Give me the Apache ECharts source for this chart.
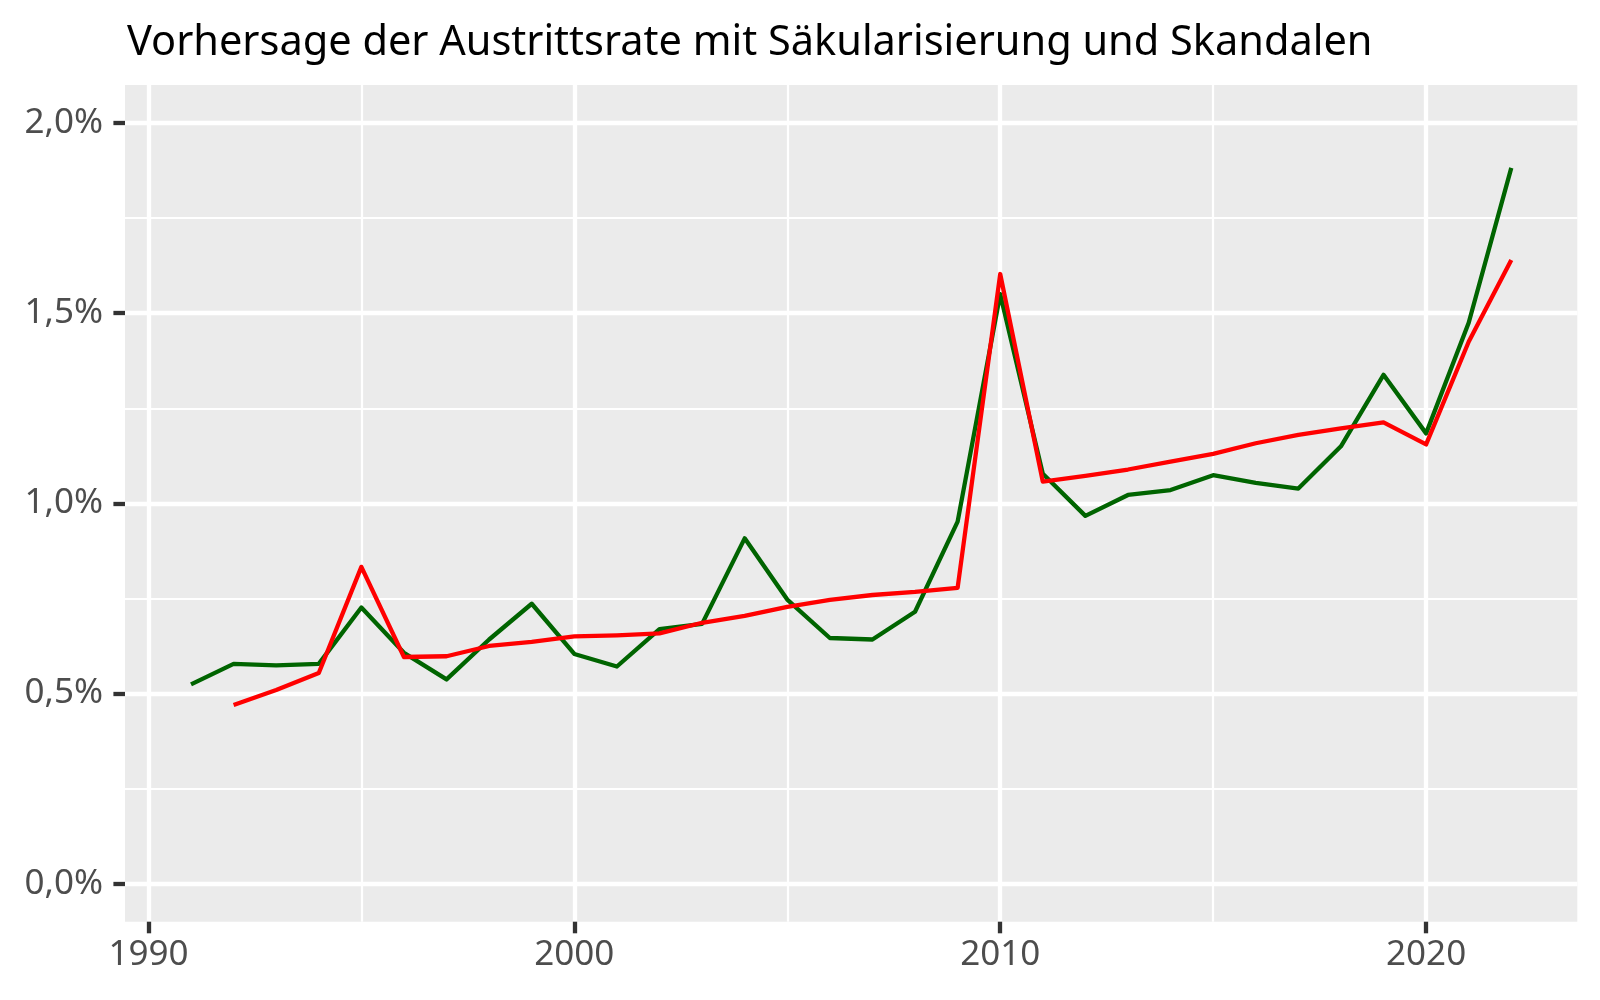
<!DOCTYPE html>
<html>
<head>
<meta charset="utf-8">
<title>Vorhersage der Austrittsrate</title>
<script src="https://cdn.jsdelivr.net/npm/echarts@6/dist/echarts.min.js"></script>
<style>
    html, body { margin: 0; padding: 0; background: #ffffff; }
    #chart { width: 1600px; height: 1000px; }
</style>
</head>
<body>
<div id="chart"></div>
<script>
// Jahre und Austrittsraten in Prozent
const years = [1991, 1992, 1993, 1994, 1995, 1996, 1997, 1998, 1999, 2000,
    2001, 2002, 2003, 2004, 2005, 2006, 2007, 2008, 2009, 2010,
    2011, 2012, 2013, 2014, 2015, 2016, 2017, 2018, 2019, 2020,
    2021, 2022];

const actualRate = [0.524, 0.578, 0.574, 0.578, 0.726, 0.607, 0.537, 0.642, 0.736, 0.604,
    0.571, 0.669, 0.683, 0.908, 0.747, 0.646, 0.642, 0.715, 0.952, 1.550,
    1.078, 0.967, 1.022, 1.035, 1.074, 1.054, 1.039, 1.150, 1.338, 1.184,
    1.475, 1.882];

const predictedRate = [null, 0.470, 0.509, 0.554, 0.833, 0.596, 0.598, 0.625, 0.636, 0.650,
    0.653, 0.658, 0.686, 0.704, 0.728, 0.746, 0.759, 0.767, 0.778, 1.603,
    1.057, 1.072, 1.089, 1.110, 1.130, 1.158, 1.180, 1.197, 1.213, 1.155,
    1.425, 1.640];

const xMajorTicks = [1990, 2000, 2010, 2020];
const xMinorTicks = [1995, 2005, 2015];
const yMajorTicks = [0, 0.5, 1.0, 1.5, 2.0];
const yMinorTicks = [0.25, 0.75, 1.25, 1.75];

const X_MIN = 1989.45, X_MAX = 2023.55;
const Y_MIN = -0.1, Y_MAX = 2.1;

const FONT = '"Noto Sans", "Open Sans", sans-serif';

function pairs(values) {
    return years.map((y, i) => [y, values[i]]);
}

function formatPct(v) {
    return v.toFixed(1).replace('.', ',') + '%';
}

function majorAxis(extra) {
    return Object.assign({
        type: 'value',
        offset: 0,
        axisLine: { show: false, onZero: false },
        splitLine: { show: true, lineStyle: { color: '#ffffff', width: 4.3 } },
        minorSplitLine: { show: false },
    }, extra);
}

function minorAxis(position, min, max, ticks) {
    return {
        type: 'value',
        position: position,
        offset: 0,
        min: min,
        max: max,
        axisLine: { show: false, onZero: false },
        axisTick: { show: false, customValues: ticks },
        axisLabel: { show: false, customValues: ticks },
        splitLine: { show: true, lineStyle: { color: '#ffffff', width: 2.2 } },
    };
}

const chart = echarts.init(document.getElementById('chart'), null, { renderer: 'canvas' });

chart.setOption({
    backgroundColor: '#ffffff',
    animation: false,
    textStyle: { fontFamily: FONT },
    title: {
        text: 'Vorhersage der Austrittsrate mit Säkularisierung und Skandalen',
        left: 122,
        top: 17,
        textStyle: { fontFamily: FONT, fontSize: 41.5, fontWeight: 'normal', color: '#000000' },
    },
    grid: {
        left: 125,
        right: 22.7,
        top: 85,
        bottom: 78.3,
        show: true,
        backgroundColor: '#EBEBEB',
        borderWidth: 0,
        containLabel: false,
        outerBoundsMode: 'none',
    },
    xAxis: [
        minorAxis('bottom', X_MIN, X_MAX, xMinorTicks),
        majorAxis({
            position: 'bottom',
            min: X_MIN,
            max: X_MAX,
            axisTick: { show: true, length: 11.6, customValues: xMajorTicks, lineStyle: { color: '#333333', width: 4.3 } },
            axisLabel: {
                customValues: xMajorTicks,
                color: '#4D4D4D',
                fontSize: 35,
                fontFamily: FONT,
                margin: 16,
                formatter: v => String(v),
            },
        }),
    ],
    yAxis: [
        minorAxis('left', Y_MIN, Y_MAX, yMinorTicks),
        majorAxis({
            position: 'left',
            min: Y_MIN,
            max: Y_MAX,
            axisTick: { show: true, length: 11.6, customValues: yMajorTicks, lineStyle: { color: '#333333', width: 4.3 } },
            axisLabel: {
                customValues: yMajorTicks,
                color: '#4D4D4D',
                fontSize: 35,
                fontFamily: FONT,
                margin: 22,
                formatter: v => formatPct(v),
            },
        }),
    ],
    series: [
        {
            name: 'Tatsächlich',
            type: 'line',
            xAxisIndex: 1,
            yAxisIndex: 1,
            data: pairs(actualRate),
            showSymbol: false,
            connectNulls: false,
            lineStyle: { color: '#006400', width: 4.3, join: 'round', cap: 'butt' },
            itemStyle: { color: '#006400' },
        },
        {
            name: 'Vorhersage',
            type: 'line',
            xAxisIndex: 1,
            yAxisIndex: 1,
            data: pairs(predictedRate),
            showSymbol: false,
            connectNulls: false,
            lineStyle: { color: '#FF0000', width: 4.3, join: 'round', cap: 'butt' },
            itemStyle: { color: '#FF0000' },
        },
    ],
});

window.addEventListener('resize', () => chart.resize());
</script>
</body>
</html>
